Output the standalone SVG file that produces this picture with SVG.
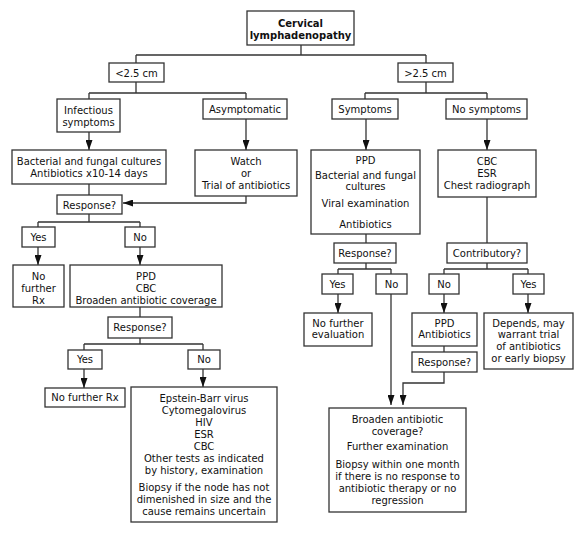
<svg xmlns="http://www.w3.org/2000/svg" width="585" height="535" viewBox="0 0 585 535">
<defs>
<style>
.b{fill:#fff;stroke:#333;stroke-width:1.3}
.c{fill:none;stroke:#333;stroke-width:1.3}
text{font-family:"DejaVu Sans",Verdana,sans-serif;font-size:10px;fill:#111;text-anchor:middle}
.bold{font-weight:bold}
</style>
<marker id="ah" markerUnits="userSpaceOnUse" markerWidth="10" markerHeight="7" viewBox="0 0 10 7" refX="10" refY="3.5" orient="auto"><path d="M0,0 L10,3.5 L0,7 z" fill="#111"/></marker>
</defs>
<rect width="585" height="535" fill="#fff"/>
<g id="connectors">
<path class="c" d="M301,45 V55 M136,55 H426 M136,55 V63 M426,55 V63"/>
<path class="c" d="M136,82 V93 M89,93 H246 M89,93 V99 M246,93 V99"/>
<path class="c" d="M426,82 V93 M365,93 H487 M365,93 V99 M487,93 V99"/>
<path class="c" marker-end="url(#ah)" d="M89,132 V150"/>
<path class="c" marker-end="url(#ah)" d="M246,119 V150"/>
<path class="c" marker-end="url(#ah)" d="M366,119 V150"/>
<path class="c" marker-end="url(#ah)" d="M487,119 V150"/>
<path class="c" d="M89,184 V195"/>
<path class="c" marker-end="url(#ah)" d="M246,196 V203 H123"/>
<path class="c" d="M89,214 V222 M38,222 H140 M38,222 V227 M140,222 V227"/>
<path class="c" marker-end="url(#ah)" d="M38,247 V265"/>
<path class="c" marker-end="url(#ah)" d="M140,247 V265"/>
<path class="c" d="M140,307 V317"/>
<path class="c" d="M140,338 V344 M84,344 H203 M84,344 V350 M203,344 V350"/>
<path class="c" marker-end="url(#ah)" d="M84,369 V388"/>
<path class="c" marker-end="url(#ah)" d="M203,369 V387"/>
<path class="c" d="M366,234 V243"/>
<path class="c" d="M366,263 V269 M338,269 H391 M338,269 V274 M391,269 V274"/>
<path class="c" marker-end="url(#ah)" d="M338,294 V313"/>
<path class="c" marker-end="url(#ah)" d="M391,294 V405"/>
<path class="c" d="M487,197 V243"/>
<path class="c" d="M487,263 V269 M444,269 H528 M444,269 V274 M528,269 V274"/>
<path class="c" marker-end="url(#ah)" d="M444,294 V313"/>
<path class="c" marker-end="url(#ah)" d="M528,294 V313"/>
<path class="c" d="M444,346 V352"/>
<path class="c" marker-end="url(#ah)" d="M444,372 V383 H403 V405"/>
</g>
<g id="n-root"><rect class="b" x="247" y="11" width="107" height="34"/><text class="bold" x="300.5" y="26.5">Cervical</text><text class="bold" x="300.5" y="38.5">lymphadenopathy</text></g>
<g id="n-lt"><rect class="b" x="109" y="63" width="55" height="19"/><text x="136.5" y="76.5">&lt;2.5 cm</text></g>
<g id="n-gt"><rect class="b" x="398" y="63" width="55" height="19"/><text x="425.5" y="76.5">&gt;2.5 cm</text></g>
<g id="n-infect"><rect class="b" x="57" y="99" width="63" height="33"/><text x="88.5" y="113.5">Infectious</text><text x="88.5" y="125.5">symptoms</text></g>
<g id="n-asym"><rect class="b" x="203" y="99" width="84" height="20"/><text x="245" y="113">Asymptomatic</text></g>
<g id="n-sym"><rect class="b" x="332" y="99" width="66" height="20"/><text x="365" y="113">Symptoms</text></g>
<g id="n-nosym"><rect class="b" x="446" y="99" width="81" height="20"/><text x="486.5" y="113">No symptoms</text></g>
<g id="n-cultures"><rect class="b" x="12" y="150" width="154" height="34"/><text x="89" y="164.5">Bacterial and fungal cultures</text><text x="89" y="176.5">Antibiotics x10-14 days</text></g>
<g id="n-watch"><rect class="b" x="195" y="150" width="102" height="46"/><text x="246" y="165">Watch</text><text x="246" y="177">or</text><text x="246" y="189">Trial of antibiotics</text></g>
<g id="n-ppd1"><rect class="b" x="311" y="150" width="109" height="84"/><text x="365.5" y="163.5">PPD</text><text x="365.5" y="179">Bacterial and fungal</text><text x="365.5" y="190">cultures</text><text x="365.5" y="207">Viral examination</text><text x="365.5" y="227.5">Antibiotics</text></g>
<g id="n-cbc"><rect class="b" x="438" y="150" width="98" height="47"/><text x="487" y="164.5">CBC</text><text x="487" y="176.5">ESR</text><text x="487" y="188.5">Chest radiograph</text></g>
<g id="n-resp1"><rect class="b" x="57" y="195" width="65" height="19"/><text x="89.5" y="208.5">Response?</text></g>
<g id="n-yes1"><rect class="b" x="22" y="227" width="33" height="20"/><text x="38.5" y="240.5">Yes</text></g>
<g id="n-no1"><rect class="b" x="125" y="227" width="30" height="20"/><text x="140" y="240.5">No</text></g>
<g id="n-nfrx1"><rect class="b" x="13" y="265" width="51" height="42"/><text x="38.5" y="280">No</text><text x="38.5" y="292">further</text><text x="38.5" y="303.5">Rx</text></g>
<g id="n-ppd2"><rect class="b" x="70" y="265" width="152" height="42"/><text x="146" y="280">PPD</text><text x="146" y="292">CBC</text><text x="146" y="303.5">Broaden antibiotic coverage</text></g>
<g id="n-resp2"><rect class="b" x="108" y="317" width="64" height="21"/><text x="140" y="331">Response?</text></g>
<g id="n-yes2"><rect class="b" x="68" y="350" width="34" height="19"/><text x="85" y="363">Yes</text></g>
<g id="n-no2"><rect class="b" x="188" y="350" width="32" height="19"/><text x="204" y="363">No</text></g>
<g id="n-nfrx2"><rect class="b" x="45" y="388" width="80" height="19"/><text x="85" y="401">No further Rx</text></g>
<g id="n-ebv"><rect class="b" x="131" y="387" width="146" height="135"/><text x="204" y="401.5">Epstein-Barr virus</text><text x="204" y="413.5">Cytomegalovirus</text><text x="204" y="425.5">HIV</text><text x="204" y="437.5">ESR</text><text x="204" y="449.5">CBC</text><text x="204" y="461.5">Other tests as indicated</text><text x="204" y="473.5">by history, examination</text><text x="204" y="490.5">Biopsy if the node has not</text><text x="204" y="502.5">dimenished in size and the</text><text x="204" y="514.5">cause remains uncertain</text></g>
<g id="n-resp3"><rect class="b" x="334" y="243" width="62" height="20"/><text x="365" y="256.5">Response?</text></g>
<g id="n-yes3"><rect class="b" x="322" y="274" width="31" height="20"/><text x="337.5" y="287.5">Yes</text></g>
<g id="n-no3"><rect class="b" x="376" y="274" width="31" height="20"/><text x="391.5" y="287.5">No</text></g>
<g id="n-nfe"><rect class="b" x="304" y="313" width="68" height="33"/><text x="338" y="326.5">No further</text><text x="338" y="338">evaluation</text></g>
<g id="n-contrib"><rect class="b" x="447" y="243" width="80" height="20"/><text x="487" y="256.5">Contributory?</text></g>
<g id="n-no4"><rect class="b" x="429" y="274" width="30" height="20"/><text x="444" y="287.5">No</text></g>
<g id="n-yes4"><rect class="b" x="513" y="274" width="31" height="20"/><text x="528.5" y="287.5">Yes</text></g>
<g id="n-ppd3"><rect class="b" x="412" y="313" width="65" height="33"/><text x="444.5" y="326.5">PPD</text><text x="444.5" y="338">Antibiotics</text></g>
<g id="n-resp4"><rect class="b" x="412" y="352" width="65" height="20"/><text x="444.5" y="365.5">Response?</text></g>
<g id="n-depends"><rect class="b" x="484" y="313" width="89" height="56"/><text x="528.5" y="327">Depends, may</text><text x="528.5" y="338">warrant trial</text><text x="528.5" y="349.5">of antibiotics</text><text x="528.5" y="362">or early biopsy</text></g>
<g id="n-broaden"><rect class="b" x="329" y="408" width="137" height="104"/><text x="397.5" y="422.5">Broaden antibiotic</text><text x="397.5" y="434.5">coverage?</text><text x="397.5" y="450">Further examination</text><text x="397.5" y="468">Biopsy within one month</text><text x="397.5" y="480">if there is no response to</text><text x="397.5" y="492">antibiotic therapy or no</text><text x="397.5" y="503.5">regression</text></g>
</svg>
